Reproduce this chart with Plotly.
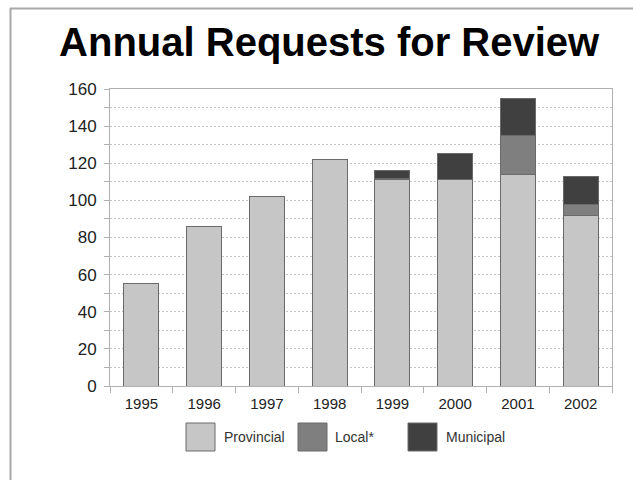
import plotly.graph_objects as go

# Annual requests for review, by source
years = ["1995", "1996", "1997", "1998", "1999", "2000", "2001", "2002"]
provincial = [55, 86, 102, 122, 111, 111, 114, 92]
local = [None, None, None, None, 1, None, 21, 6]
municipal = [None, None, None, None, 4, 14, 20, 15]

series_names = ["Provincial", "Local*", "Municipal"]
series_values = [provincial, local, municipal]
series_colors = ["#c6c6c6", "#7f7f7f", "#404040"]

W, H = 633, 480
L, R, T, B = 110, 612, 89, 386  # plot area in pixels


def px(x):
    return (x - L) / (R - L)


def py(y):
    return (B - y) / (B - T)


fig = go.Figure()
for name, vals, col in zip(series_names, series_values, series_colors):
    fig.add_trace(go.Bar(
        x=years, y=vals, name=name,
        marker=dict(color=col, line=dict(color="#6a6a6a", width=1)),
        showlegend=False,
    ))

# outer frame lines (top and left)
shapes = [
    dict(type="line", xref="paper", yref="paper", x0=px(10), x1=px(640),
         y0=py(8.5), y1=py(8.5), line=dict(color="#a8a8a8", width=2)),
    dict(type="line", xref="paper", yref="paper", x0=px(10.5), x1=px(10.5),
         y0=py(8), y1=py(490), line=dict(color="#a8a8a8", width=2)),
]

# legend: swatches with labels below the axis
legend_items = [(186, 222), (298, 333), (408, 444)]
annotations = []
for (bx, tx), name, col in zip(legend_items, series_names, series_colors):
    shapes.append(dict(type="rect", xref="paper", yref="paper",
                       x0=px(bx), x1=px(bx + 29), y0=py(423), y1=py(451),
                       fillcolor=col, line=dict(color="#6a6a6a", width=1)))
    annotations.append(dict(text=name, xref="paper", yref="paper",
                            x=px(tx), y=py(437), xanchor="left", yanchor="middle",
                            showarrow=False,
                            font=dict(family="Arial", size=14, color="#333")))

grid_style = dict(gridcolor="#c2c2c2", griddash="2px,2px", gridwidth=1)

fig.update_layout(
    width=W, height=H,
    margin=dict(l=L, r=W - R, t=T, b=H - B),
    paper_bgcolor="white", plot_bgcolor="white",
    barmode="stack", bargap=0.44,
    title=dict(text="<b>Annual Requests for Review</b>", x=0.52, xanchor="center",
               y=1 - 42 / H, yanchor="middle",
               font=dict(family="Arial", size=40, color="#000")),
    font=dict(family="Arial", size=16, color="#222"),
    shapes=shapes, annotations=annotations,
    xaxis=dict(type="category", tickson="boundaries", ticks="outside", ticklen=6,
               tickcolor="#b0b0b0", showline=True, linecolor="#b0b0b0", mirror=True,
               showgrid=False, tickfont=dict(size=15), ticklabelstandoff=4,
               fixedrange=True),
    yaxis=dict(range=[0, 160], dtick=20, ticks="outside", ticklen=5, tickcolor="#b0b0b0",
               showline=True, linecolor="#b0b0b0", mirror=True,
               zeroline=False, **grid_style,
               minor=dict(dtick=10, showgrid=True, ticks="outside", ticklen=5,
                          tickcolor="#b0b0b0", **grid_style),
               tickfont=dict(size=17), ticklabelstandoff=4, fixedrange=True),
)

fig.write_html("out.html")
